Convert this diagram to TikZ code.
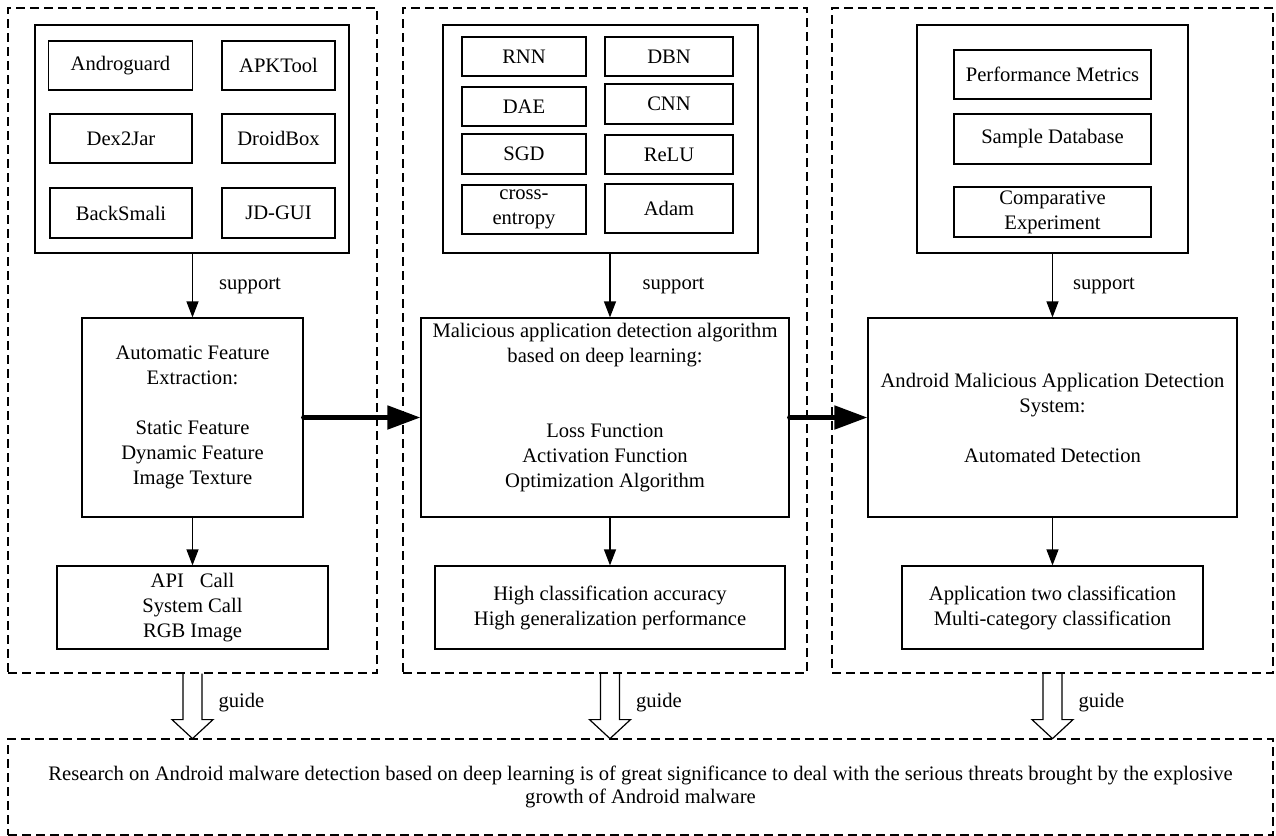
\documentclass[tikz,border=0pt]{standalone}
\usepackage{fontspec}
\setmainfont{Liberation Serif}
\usetikzlibrary{arrows.meta}

\begin{document}
\begin{tikzpicture}[x=0.5pt, y=-0.5pt,
  base/.style = {inner sep=0pt, align=center, font=\rmfamily\fontsize{10.3}{12.5}\selectfont},
  box/.style = {base, draw, line width=0.6pt},
  frame/.style = {draw, line width=0.6pt, dash pattern=on 4.5pt off 2.5pt},
  arr/.style = {line width=0.6pt, -{Triangle[length=8pt, width=6pt]}},
  bigarr/.style = {line width=2.5pt, line cap=round, -{Triangle[length=16.5pt, width=11.5pt]}},
  hollow/.style = {line width=0.6pt, line join=miter}]

\useasboundingbox (0,0) rectangle (1276,836);

% dashed frames
\node[frame, minimum width=184.5pt, minimum height=332.5pt] (lframe) at (192.5,340.5) {};
\node[frame, minimum width=202pt, minimum height=332.5pt] (mframe) at (605,340.5) {};
\node[frame, minimum width=220.5pt, minimum height=332.5pt] (rframe) at (1052.5,340.5) {};
\node[frame, base, minimum width=632.5pt, minimum height=48pt] (goal) at (640.5,787) {Research on Android malware detection based on deep learning is of great significance to deal with the serious threats brought by the explosive\\[-1pt]growth of Android malware};

% left column
\node[box, minimum width=157pt, minimum height=114pt] (lkit) at (192,139) {};
\node[box, minimum width=72pt, minimum height=24.5pt] (andro) at (120.5,65.5) {Androguard};
\node[box, minimum width=56.5pt, minimum height=24.5pt] (apktool) at (278.5,65.5) {APKTool};
\node[box, minimum width=71pt, minimum height=24.5pt] (dexjar) at (121,138.5) {Dex2Jar};
\node[box, minimum width=56.5pt, minimum height=24.5pt] (droidbox) at (278.5,138.5) {DroidBox};
\node[box, minimum width=71pt, minimum height=25pt] (backsmali) at (121,213) {BackSmali};
\node[box, minimum width=56.5pt, minimum height=25pt] (jdgui) at (278.5,213) {JD-GUI};
\node[box, minimum width=110.5pt, minimum height=99.5pt] (lfeat) at (192.5,417.5) {Automatic Feature\\Extraction:\\[12.5pt]Static Feature\\Dynamic Feature\\Image Texture};
\node[box, minimum width=135.5pt, minimum height=41.5pt] (lres) at (192.5,607.5) {API\hspace{8pt}Call\\System Call\\RGB Image};

% middle column
\node[box, minimum width=157.5pt, minimum height=114pt] (mkit) at (600.5,139) {};
\node[box, minimum width=62pt, minimum height=19.5pt] (rnn) at (524,56.5) {RNN};
\node[box, minimum width=64pt, minimum height=19.5pt] (dbn) at (669,56.5) {DBN};
\node[box, minimum width=62pt, minimum height=19.5pt] (dae) at (524,106.5) {DAE};
\node[box, minimum width=64pt, minimum height=20pt] (cnn) at (669,104) {CNN};
\node[box, minimum width=62pt, minimum height=20pt] (sgd) at (524,154) {SGD};
\node[box, minimum width=64pt, minimum height=19.5pt] (relu) at (669,154.5) {ReLU};
\node[box, minimum width=62pt, minimum height=24.5pt] (xent) at (524,209.5) {cross-\\entropy};
\node[box, minimum width=64pt, minimum height=24.5pt] (adam) at (669,208.5) {Adam};
\node[box, minimum width=184pt, minimum height=99.5pt] (malgo) at (605,417.5) {Malicious application detection algorithm\\based on deep learning:\\[25pt]Loss Function\\Activation Function\\Optimization Algorithm\\~};
\node[box, minimum width=175pt, minimum height=41.5pt] (mres) at (610,607.5) {High classification accuracy\\High generalization performance};

% right column
\node[box, minimum width=135.5pt, minimum height=114pt] (rkit) at (1052.5,139) {};
\node[box, minimum width=98.5pt, minimum height=24.5pt] (perf) at (1052.5,74.5) {Performance Metrics};
\node[box, minimum width=98.5pt, minimum height=25pt] (sample) at (1052.5,139) {Sample Database};
\node[box, minimum width=98.5pt, minimum height=25pt] (compare) at (1052.5,212) {Comparative\\Experiment};
\node[box, minimum width=184.5pt, minimum height=99.5pt] (rsys) at (1052.5,417.5) {Android Malicious Application Detection\\System:\\[12.5pt]Automated Detection};
\node[box, minimum width=150.5pt, minimum height=41.5pt] (rres) at (1052.5,607.5) {Application two classification\\Multi-category classification};

% support / result arrows
\draw[arr] (lkit.south -| lres) -- node[base, right=13pt] {support} (lfeat.north -| lres);
\draw[arr] (mkit.south -| mres) -- node[base, right=16pt] {support} (malgo.north -| mres);
\draw[arr] (rkit.south -| rres) -- node[base, right=10pt] {support} (rsys.north -| rres);
\draw[arr] (lfeat.south -| lres) -- (lres);
\draw[arr] (malgo.south -| mres) -- (mres);
\draw[arr] (rsys.south -| rres) -- (rres);

% main flow
\draw[bigarr] (lfeat) -- (malgo);
\draw[bigarr] (malgo) -- (rsys);

% guide arrows
\foreach \f/\r in {lframe/lres, mframe/mres, rframe/rres}
  \draw[hollow] (\f.south -| \r) ++(-9.5,0) -- ++(0,46) -- ++(-11,0) -- ++(20.5,19) -- ++(20.5,-19) -- ++(-11,0) -- ++(0,-46) node[base, midway, right=8pt, yshift=-3pt] {guide};
\end{tikzpicture}
\end{document}
